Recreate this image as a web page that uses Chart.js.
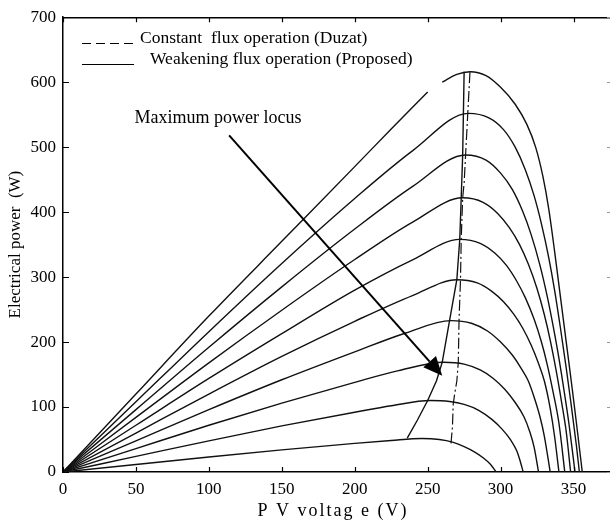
<!DOCTYPE html>
<html>
<head>
<meta charset="utf-8">
<script src="https://cdn.jsdelivr.net/npm/chart.js@4.4.1/dist/chart.umd.min.js"></script>
<style>
  html, body { margin: 0; padding: 0; background: #fff; }
  #wrap { width: 610px; height: 523px; }
</style>
</head>
<body>
<div id="wrap"><canvas id="pvChart"></canvas></div>
<script>
// ======================================================
// P-V curves, one per irradiance level: [voltage V, power W]
// ======================================================

const curve1 = [[0, 0], [50, 11.5], [100, 23], [150, 34], [200, 44], [225, 48.5], [246, 51.5], [258, 50], [267, 46], [275, 39], [282, 31], [288, 22], [293, 12], [297, 0]];
const curve2 = [[0, 0], [50, 24], [100, 48], [150, 71], [200, 92], [225, 102], [252, 110], [265, 108.5], [275, 104], [285, 95], [294, 81], [301, 66], [307, 49], [311, 33], [313, 20], [315.5, 0]];
const curve3 = [[0, 0], [50, 36], [100, 72], [150, 106], [200, 138], [230, 156], [261, 169], [275, 166], [286, 157], [295, 144], [303, 127], [310, 107], [316, 85], [320, 62], [323, 38], [326, 0]];
const curve4 = [[0, 0], [50, 48], [100, 96], [150, 142], [200, 185], [235, 214], [266, 233], [280, 229], [291, 217], [300, 200], [308, 180], [314, 160], [319, 140], [323, 115], [327, 85], [330, 55], [334, 0]];
const curve5 = [[0, 0], [50, 60], [100, 120], [150, 178], [200, 232], [240, 272], [270, 296], [284, 291], [294, 278], [302, 262], [309, 243], [315, 222], [321, 195], [326, 167], [330, 140], [334, 98], [337, 55], [340, 0]];
const curve6 = [[0, 0], [50, 72], [100, 144], [150, 213], [200, 280], [240, 327], [272, 358], [286, 352], [296, 337], [304, 318], [311, 294], [317, 268], [323, 235], [328, 200], [332, 165], [336, 123], [340, 75], [344, 0]];
const curve7 = [[0, 0], [50, 84], [100, 168], [150, 249], [200, 327], [240, 385], [274, 422], [288, 415], [298, 398], [306, 376], [313, 350], [319, 320], [325, 282], [330, 242], [334, 203], [338, 157], [342, 105], [345, 62], [348, 0]];
const curve8 = [[0, 0], [50, 96], [100, 192], [150, 285], [200, 374], [240, 440], [276, 488], [290, 480], [300, 460], [308, 435], [315, 402], [321, 365], [327, 318], [332, 270], [336, 225], [340, 175], [344, 118], [347, 72], [351, 0]];
const curve9 = [[0, 0], [50, 108], [100, 216], [150, 321], [200, 421], [240, 495], [278, 552], [292, 545], [302, 527], [310, 500], [317, 465], [323, 425], [328, 382], [333, 330], [337, 280], [341, 222], [345, 160], [348, 110], [352, 40], [354, 0]];
const curve10 = [[0, 0], [50, 120], [100, 240], [150, 355], [200, 470], [225, 528], [250, 585], [255, null], [260, 600], [270, 612], [279, 616], [290, 610], [300, 592], [310, 566], [318, 535], [324, 500], [329, 455], [333, 405], [337, 340], [341, 270], [345, 200], [349, 130], [352, 75], [356, 0]];

// Maximum power locus, weakening flux (proposed)
const mppProposed = [[236, 52], [243, 80], [250, 110], [256, 140], [260, 169], [265, 233], [270, 296], [272, 358], [273, 422], [274, 488], [274.5, 552], [275, 616]];

// Maximum power locus, constant flux (Duzat)
const mppDuzat = [[266, 44], [267, 70], [267.5, 104], [268.5, 120], [270, 140], [271, 169], [271.5, 233], [272.5, 296], [273, 358], [274, 422], [275, 445], [276, 488], [277.5, 552], [279, 616]];

// Arrow from the caption down to the locus
const arrowLine = [[113.9, 518], [260, 148]];
const locusLabel = { text: "Maximum power locus", v: 49, p: 537 };

const xTicks = [0, 50, 100, 150, 200, 250, 300, 350];
const yTicks = [0, 100, 200, 300, 400, 500, 600, 700];

const pvCurves = [curve1, curve2, curve3, curve4, curve5, curve6, curve7, curve8, curve9, curve10];

const FONT = "'Liberation Serif', 'Times New Roman', serif";
const INK = "#111";

const toPoints = pairs => pairs.map(p => ({ x: p[0], y: p[1] }));

// ======================================================
// Frame: top border and inward tick marks
// ======================================================

const frameTicks = {
    id: "frameTicks",
    afterDraw(chart) {
        const { ctx, chartArea: a, scales: { x, y } } = chart;
        ctx.save();
        ctx.strokeStyle = "#000";
        ctx.lineWidth = 1.5;
        ctx.beginPath();
        ctx.moveTo(a.left, a.top + 0.5);
        ctx.lineTo(a.right, a.top + 0.5);
        ctx.stroke();

        ctx.lineWidth = 1.2;
        ctx.beginPath();
        xTicks.forEach(v => {
            const px = Math.round(x.getPixelForValue(v)) + 0.5;
            ctx.moveTo(px, a.bottom);
            ctx.lineTo(px, a.bottom - 5);
            ctx.moveTo(px, a.top);
            ctx.lineTo(px, a.top + 5);
        });
        yTicks.forEach(v => {
            const py = Math.round(y.getPixelForValue(v)) + 0.5;
            ctx.moveTo(a.left, py);
            ctx.lineTo(a.left + 6, py);
        });
        ctx.stroke();

        // right-hand ticks sit at the clipped edge
        ctx.strokeStyle = "#999";
        ctx.lineWidth = 1;
        ctx.beginPath();
        yTicks.forEach(v => {
            const py = Math.round(y.getPixelForValue(v)) + 0.5;
            ctx.moveTo(a.right - 3, py);
            ctx.lineTo(a.right, py);
        });
        ctx.stroke();
        ctx.restore();
    }
};

// ======================================================
// Legend, caption, arrow and spaced x title
// ======================================================

const notes = {
    id: "notes",
    afterDraw(chart) {
        const { ctx, scales: { x, y } } = chart;
        ctx.save();
        ctx.fillStyle = "#000";
        ctx.strokeStyle = "#000";
        ctx.font = "17.5px " + FONT;
        ctx.textBaseline = "alphabetic";

        // legend
        ctx.lineWidth = 1.2;
        ctx.setLineDash([9, 5]);
        ctx.beginPath();
        ctx.moveTo(82, 43.5);
        ctx.lineTo(134, 43.5);
        ctx.stroke();
        ctx.setLineDash([]);
        ctx.beginPath();
        ctx.moveTo(82, 64.5);
        ctx.lineTo(134, 64.5);
        ctx.stroke();
        ctx.fillText("Constant  flux operation (Duzat)", 140, 43);
        ctx.fillText("Weakening flux operation (Proposed)", 150, 64);

        // caption
        ctx.font = "18px " + FONT;
        ctx.fillText(locusLabel.text, x.getPixelForValue(locusLabel.v), y.getPixelForValue(locusLabel.p));

        // x axis title, slightly letter-spaced
        ctx.font = "18px " + FONT;
        ctx.textAlign = "center";
        ctx.letterSpacing = "2px";
        ctx.fillText("P V voltag e (V)", 333, 516);
        ctx.letterSpacing = "0px";
        ctx.textAlign = "left";

        // arrow
        const x0 = x.getPixelForValue(arrowLine[0][0]);
        const y0 = y.getPixelForValue(arrowLine[0][1]);
        const x1 = x.getPixelForValue(arrowLine[1][0]);
        const y1 = y.getPixelForValue(arrowLine[1][1]);
        const ang = Math.atan2(y1 - y0, x1 - x0);
        const headLen = 19, headHalf = 8.5;
        const bx = x1 - headLen * Math.cos(ang);
        const by = y1 - headLen * Math.sin(ang);
        ctx.lineWidth = 2;
        ctx.beginPath();
        ctx.moveTo(x0, y0);
        ctx.lineTo(bx, by);
        ctx.stroke();
        ctx.beginPath();
        ctx.moveTo(x1, y1);
        ctx.lineTo(bx + headHalf * Math.sin(ang), by - headHalf * Math.cos(ang));
        ctx.lineTo(bx - headHalf * Math.sin(ang), by + headHalf * Math.cos(ang));
        ctx.closePath();
        ctx.fill();
        ctx.restore();
    }
};

// ======================================================
// Chart
// ======================================================

const datasets = pvCurves.map(c => ({
    data: toPoints(c),
    borderColor: INK,
    borderWidth: 1.4,
    pointRadius: 0,
    cubicInterpolationMode: "monotone",
    spanGaps: false
}));

datasets.push({
    data: toPoints(mppProposed),
    borderColor: INK,
    borderWidth: 1.4,
    pointRadius: 0,
    tension: 0
});

datasets.push({
    data: toPoints(mppDuzat),
    borderColor: INK,
    borderWidth: 1.2,
    borderDash: [11, 3, 2, 3],
    pointRadius: 0,
    tension: 0
});

new Chart(document.querySelector("#pvChart"), {
    type: "line",
    data: { datasets },
    options: {
        responsive: true,
        maintainAspectRatio: false,
        animation: false,
        events: [],
        layout: { padding: { top: 13, right: 0, left: 0, bottom: 0 } },
        plugins: {
            legend: { display: false },
            tooltip: { enabled: false }
        },
        scales: {
            x: {
                type: "linear",
                min: 0,
                max: 375,
                grid: { display: false, drawTicks: false },
                border: { display: true, color: "#000", width: 1.5 },
                afterBuildTicks: s => { s.ticks = xTicks.map(v => ({ value: v })); },
                afterFit: s => { s.height = 51; },
                ticks: {
                    color: "#000",
                    padding: 7,
                    maxRotation: 0,
                    font: { family: FONT, size: 17 }
                },
                title: { display: false }
            },
            y: {
                type: "linear",
                min: 0,
                max: 700,
                grid: { display: false, drawTicks: false },
                border: { display: true, color: "#000", width: 1.5 },
                afterBuildTicks: s => { s.ticks = yTicks.map(v => ({ value: v })); },
                afterFit: s => { s.width = 63; },
                ticks: {
                    color: "#000",
                    padding: 7,
                    font: { family: FONT, size: 17 }
                },
                title: {
                    display: true,
                    text: "Electrical power  (W)",
                    color: "#000",
                    padding: { top: 5, bottom: 0 },
                    font: { family: FONT, size: 17 }
                }
            }
        }
    },
    plugins: [frameTicks, notes]
});
</script>
</body>
</html>
